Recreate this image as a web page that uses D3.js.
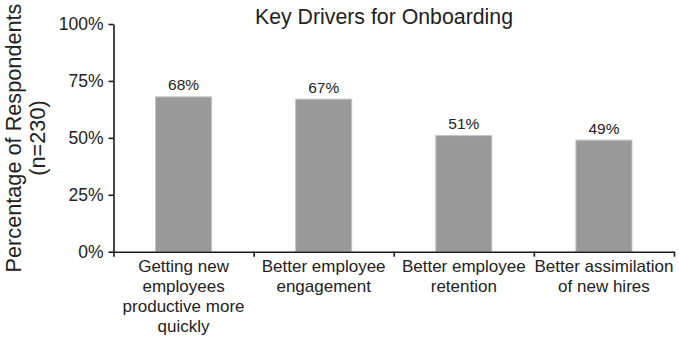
<!DOCTYPE html>
<html>
<head>
<meta charset="utf-8">
<script src="https://cdn.jsdelivr.net/npm/d3@7"></script>
<style>
  html, body { margin: 0; padding: 0; background: #fff; }
  svg { display: block; font-family: "Liberation Sans", Arial, Helvetica, sans-serif; }
  text { fill: #222; }
</style>
</head>
<body>
<svg id="chart" width="679" height="338"></svg>
<script>
// Survey results: share of respondents citing each driver
const categories = [
  ["Getting new", "employees", "productive more", "quickly"],
  ["Better employee", "engagement"],
  ["Better employee", "retention"],
  ["Better assimilation", "of new hires"]
];
const values = [0.68, 0.67, 0.51, 0.49];
const yTicks = [0, 0.25, 0.5, 0.75, 1];
const title = "Key Drivers for Onboarding";
const yTitle = ["Percentage of Respondents", "(n=230)"];

const svg = d3.select("#chart");
const plot = { left: 113.5, right: 674, top: 24, bottom: 251.7 };

const keys = categories.map((c, i) => i);
const x = d3.scaleBand().domain(keys).range([plot.left, plot.right])
  .paddingInner(0.6).paddingOuter(0.3);
const y = d3.scaleLinear().domain([0, 1]).range([plot.bottom, plot.top]);

// Bars
svg.append("g").selectAll("rect").data(values).join("rect")
  .attr("x", (d, i) => x(i))
  .attr("y", d => y(d))
  .attr("width", x.bandwidth())
  .attr("height", d => y(0) - y(d))
  .attr("fill", "#999999")
  .attr("stroke", "#c4c4c4")
  .attr("stroke-width", 1);

// Value labels above bars
svg.append("g").selectAll("text").data(values).join("text")
  .attr("x", (d, i) => x(i) + x.bandwidth() / 2)
  .attr("y", d => y(d) - 6.5)
  .attr("text-anchor", "middle")
  .style("font-size", "15.5px")
  .text(d => d3.format(".0%")(d));

// Y axis
const yAxis = svg.append("g")
  .attr("transform", `translate(${plot.left},0)`)
  .call(d3.axisLeft(y).tickValues(yTicks).tickFormat(d3.format(".0%")).tickSize(5).tickSizeOuter(0).tickPadding(5));
yAxis.selectAll("text").style("font-size", "17.5px").attr("fill", "#222");

// X axis with ticks at category boundaries
const xb = d3.scaleLinear().domain([0, categories.length]).range([plot.left, plot.right]);
svg.append("g")
  .attr("transform", `translate(0,${plot.bottom})`)
  .call(d3.axisBottom(xb).tickValues(d3.range(categories.length + 1)).tickFormat("").tickSize(5).tickSizeOuter(0));

svg.selectAll(".domain, .tick line").attr("stroke", "#1a1a1a").attr("stroke-width", 1.6);

// Category labels (multi-line)
const cat = svg.append("g").selectAll("text").data(categories).join("text")
  .attr("x", (d, i) => x(i) + x.bandwidth() / 2)
  .attr("y", 271.7)
  .attr("text-anchor", "middle")
  .style("font-size", "17px");
cat.selectAll("tspan").data(d => d).join("tspan")
  .attr("x", function () { return this.parentNode.getAttribute("x"); })
  .attr("dy", (d, j) => j === 0 ? 0 : 20)
  .text(d => d);

// Chart title
svg.append("text")
  .attr("x", 384).attr("y", 24)
  .attr("text-anchor", "middle")
  .style("font-size", "21.3px")
  .text(title);

// Y axis title (two lines, rotated)
const yt = svg.append("text")
  .attr("transform", "translate(21,138) rotate(-90)")
  .attr("text-anchor", "middle")
  .style("font-size", "21.7px");
yt.selectAll("tspan").data(yTitle).join("tspan")
  .attr("x", 0)
  .attr("dy", (d, j) => j === 0 ? 0 : 24)
  .text(d => d);
</script>
</body>
</html>
